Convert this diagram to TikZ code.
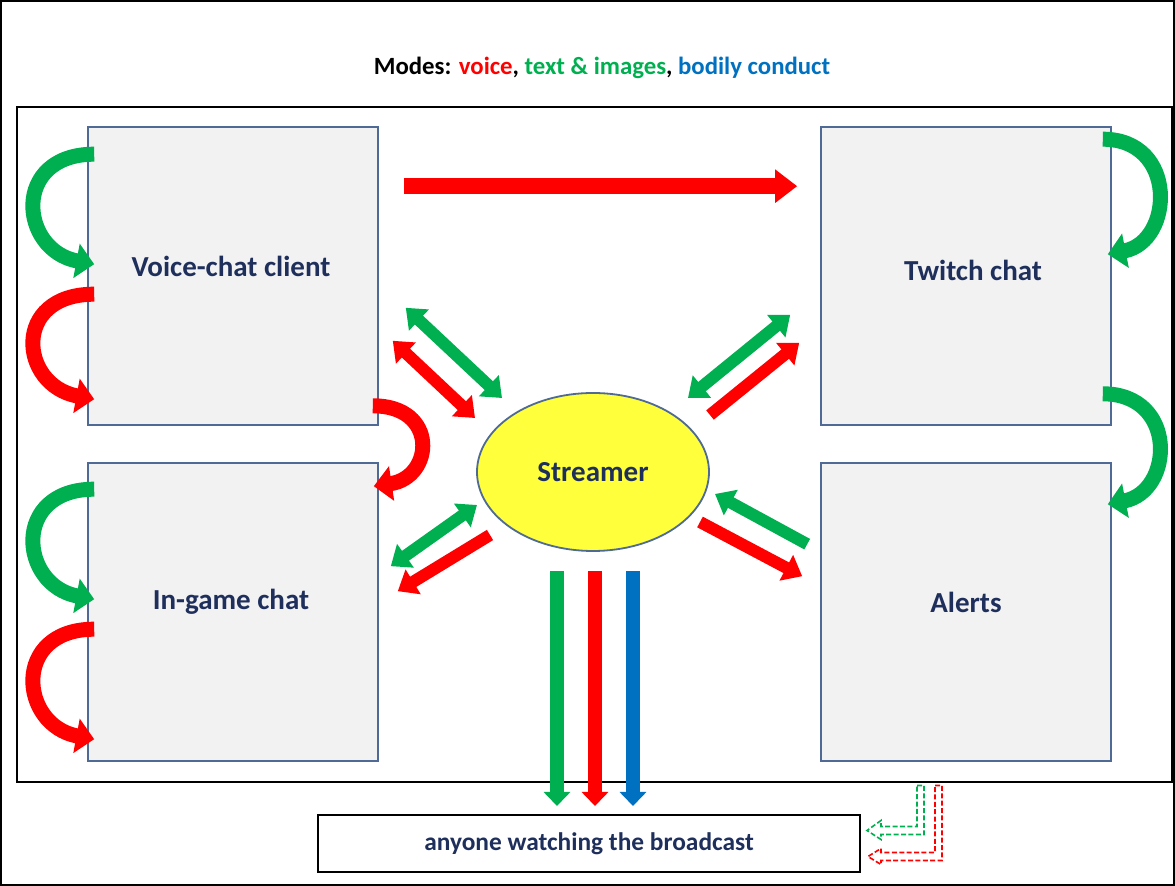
\documentclass[tikz,border=0pt]{standalone}
\usepackage{fontspec}
\setmainfont{Carlito}
\usetikzlibrary{arrows.meta,calc,shapes.geometric}
\definecolor{modered}{HTML}{FF0000}
\definecolor{modegreen}{HTML}{00B050}
\definecolor{modeblue}{HTML}{0070C0}
\definecolor{boxfill}{HTML}{F2F2F2}
\definecolor{boxline}{HTML}{4F6A95}
\definecolor{labelnavy}{HTML}{1F2F5C}
\definecolor{streamfill}{HTML}{FFFF3B}

\begin{document}
\begin{tikzpicture}[x=0.5pt,y=-0.5pt,
  panel/.style={draw=boxline,line width=0.8pt,fill=boxfill,minimum width=145pt,minimum height=149pt,inner sep=0pt},
  panellabel/.style={font=\bfseries\fontsize{14.5}{17}\selectfont,text=labelnavy},
  flow/.style={line width=8pt,-{Triangle[length=11pt,width=16pt]}},
  link/.style={line width=6pt,{Triangle[length=9pt,width=14pt]}-{Triangle[length=9pt,width=14pt]}},
  oneway/.style={line width=6pt,-{Triangle[length=9pt,width=14pt]}},
  drop/.style={line width=7pt,-{Triangle[length=7pt,width=13pt]}},
  loop/.style={line width=7.5pt,-{Triangle[length=9pt,width=17pt]}},
  hollow/.style={line width=0.8pt,dash pattern=on 2.5pt off 1.2pt,fill=white}
]
\useasboundingbox (0,0) rectangle (1175,886);
\draw[line width=0.6pt] (1,1) rectangle (1174,885);
\draw[line width=1pt] (17,107) rectangle (1172,782);

% title
\node[font=\bfseries\fontsize{12.4}{15}\selectfont] (title) at (602,68)
  {Modes: \textcolor{modered}{voice}, \textcolor{modegreen}{text \& images}, \textcolor{modeblue}{bodily conduct}};

% panels
\node[panel,label={[panellabel,yshift=5pt,xshift=-1pt]center:Voice-chat client}] (vc) at (233,276) {};
\node[panel,label={[panellabel,yshift=5pt,xshift=-1pt]center:In-game chat}] (ig) at (233,612) {};
\node[panel,label={[panellabel,yshift=3pt,xshift=3.5pt]center:Twitch chat}] (tw) at (966,276) {};
\node[panel,label={[panellabel,yshift=5pt]center:Alerts}] (al) at (966,612) {};
\node[ellipse,draw=boxline,line width=0.9pt,fill=streamfill,minimum width=116pt,minimum height=79pt,panellabel] (st) at (593,472) {Streamer};
\node[draw,line width=1pt,minimum width=271pt,minimum height=28.5pt,panellabel,font=\bfseries\fontsize{12.7}{15}\selectfont] (aud) at (589,843.5) {anyone watching the broadcast};

% voice-chat client -> twitch chat
\draw[flow,modered] ($(vc.north east)+(25,60)$) -- ($(tw.north west)+(-23,60)$);

% streamer links
\draw[link,modegreen] ($(vc.south east)+(27,-118)$) -- ($(st.center)+(-91,-74)$);
\draw[link,modered] ($(vc.south east)+(14,-85)$) -- ($(st.center)+(-118,-54)$);
\draw[link,modegreen] ($(st.center)+(95,-74)$) -- ($(tw.south west)+(-30,-111)$);
\draw[oneway,modered] ($(st.center)+(117,-57)$) -- ($(tw.south west)+(-21,-83)$);
\draw[link,modegreen] ($(st.center)+(-116,33)$) -- ($(ig.north east)+(12,104)$);
\draw[oneway,modered] ($(st.center)+(-103,63)$) -- ($(ig.north east)+(19,129)$);
\draw[oneway,modegreen] ($(al.north west)+(-13,82)$) -- ($(st.center)+(122,22)$);
\draw[oneway,modered] ($(st.center)+(107,50)$) -- ($(al.north west)+(-18,114)$);

% streamer -> audience
\draw[drop,modegreen] ($(st.south)+(-36,19)$) -- ($(aud.north)+(-32,-8)$);
\draw[drop,modered] ($(st.south)+(2,19)$) -- ($(aud.north)+(6,-8)$);
\draw[drop,modeblue] ($(st.south)+(40,19)$) -- ($(aud.north)+(44,-8)$);

% loops on the left
\draw[loop,modegreen] ($(vc.north west)+(7,28)$) .. controls ($(vc.north west)+(-76,28)$) and ($(vc.north west)+(-68,124)$) .. ($(vc.north west)+(7,138)$);
\draw[loop,modered] ($(vc.north west)+(7,168)$) .. controls ($(vc.north west)+(-76,168)$) and ($(vc.north west)+(-68,259)$) .. ($(vc.north west)+(7,273)$);
\draw[loop,modegreen] ($(ig.north west)+(7,27)$) .. controls ($(ig.north west)+(-76,27)$) and ($(ig.north west)+(-68,123)$) .. ($(ig.north west)+(7,137)$);
\draw[loop,modered] ($(ig.north west)+(7,167)$) .. controls ($(ig.north west)+(-76,167)$) and ($(ig.north west)+(-68,263)$) .. ($(ig.north west)+(7,277)$);

% voice-chat client -> in-game chat
\draw[loop,modered] ($(vc.south east)+(-6,-20)$) .. controls ($(vc.south east)+(60,-20)$) and ($(ig.north east)+(55,15)$) .. ($(ig.north east)+(-5,24)$);

% loops on the right
\draw[loop,modegreen] ($(tw.north east)+(-9,13)$) .. controls ($(tw.north east)+(66,13)$) and ($(tw.north east)+(62,115)$) .. ($(tw.north east)+(-4,128)$);
\draw[loop,modegreen] ($(tw.south east)+(-9,-32)$) .. controls ($(tw.south east)+(66,-32)$) and ($(al.north east)+(62,29)$) .. ($(al.north east)+(-4,42)$);

% replays to the audience
\begin{scope}[shift={(aud.east)}]
\draw[hollow,draw=modegreen] (56,-58) -- (63,-58) -- (63,-9) -- (20,-9) -- (20,-4) -- (6,-13) -- (20,-23) -- (20,-17) -- (56,-17) -- cycle;
\draw[hollow,draw=modered] (74,-58) -- (81,-58) -- (81,17) -- (20,17) -- (20,21) -- (7,13) -- (20,5) -- (20,9) -- (74,9) -- cycle;
\end{scope}
\end{tikzpicture}
\end{document}
